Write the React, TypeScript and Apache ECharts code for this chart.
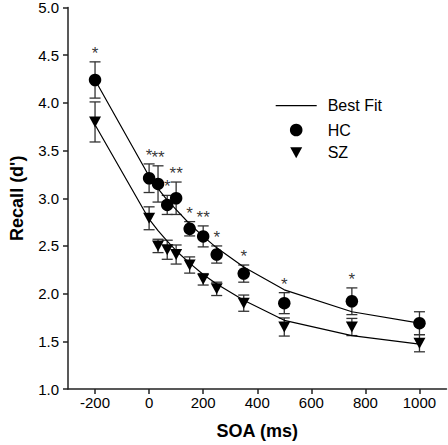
import React, { useEffect, useRef } from "react";
import * as echarts from "echarts";

const soa = [-200, 0, 33, 67, 100, 150, 200, 250, 350, 500, 750, 1000];
const hcMean = [4.24, 3.21, 3.15, 2.93, 3.0, 2.68, 2.6, 2.41, 2.21, 1.9, 1.92, 1.69];
const hcErr = [0.19, 0.15, 0.19, 0.1, 0.17, 0.075, 0.11, 0.09, 0.09, 0.11, 0.14, 0.12];
const szMean = [3.8, 2.79, 2.5, 2.46, 2.41, 2.3, 2.15, 2.05, 1.9, 1.65, 1.65, 1.48];
const szErr = [0.21, 0.12, 0.07, 0.1, 0.1, 0.085, 0.06, 0.07, 0.085, 0.095, 0.09, 0.09];
const hcFit = [4.24, 3.23, 3.1, 2.98, 2.88, 2.73, 2.6, 2.48, 2.28, 2.04, 1.81, 1.69];
const szFit = [3.77, 2.78, 2.66, 2.55, 2.45, 2.32, 2.2, 2.1, 1.93, 1.72, 1.56, 1.47];
const sigMarks = ["*", "*", "**", "*", "**", "*", "**", "*", "*", "*", "*", ""];
const xTicks = [-200, 0, 200, 400, 600, 800, 1000];
const legendNames = ["Best Fit", "HC", "SZ"];

const FONT = "'Liberation Sans', Arial, Helvetica, sans-serif";

export default function App() {
  const ref = useRef<HTMLDivElement>(null);
  useEffect(() => {
    document.body.style.margin = "0";
    if (!ref.current) return;
    const chart = echarts.init(ref.current, null, { renderer: "svg" });

    const errData = (mean: number[], err: number[]) =>
      soa.map((x, i) => [x, mean[i] - err[i], mean[i] + err[i]]);

    const renderErr = (params: any, api: any) => {
      const x = api.value(0);
      const pLo = api.coord([x, api.value(1)]);
      const pHi = api.coord([x, api.value(2)]);
      const w = 5.5;
      const st = { stroke: "#333", lineWidth: 1.3 };
      return {
        type: "group",
        children: [
          { type: "line", shape: { x1: pHi[0], y1: pHi[1], x2: pLo[0], y2: pLo[1] }, style: st },
          { type: "line", shape: { x1: pHi[0] - w, y1: pHi[1], x2: pHi[0] + w, y2: pHi[1] }, style: st },
          { type: "line", shape: { x1: pLo[0] - w, y1: pLo[1], x2: pLo[0] + w, y2: pLo[1] }, style: st },
        ],
      };
    };

    const lx = 275.7;
    const ly = [105.7, 130, 152.7];
    const textX = 327.7;
    const legendText = (name: string, y: number) => ({
      type: "text",
      x: textX,
      y,
      style: { text: name, fill: "#000", font: `16px ${FONT}`, textVerticalAlign: "middle", textAlign: "left" },
    });

    chart.setOption({
      animation: false,
      textStyle: { fontFamily: FONT },
      grid: { left: 60, right: 1.5, top: 6.3, bottom: 52.3, containLabel: false },
      graphic: [
        { type: "line", shape: { x1: lx, y1: ly[0], x2: lx + 41, y2: ly[0] }, style: { stroke: "#000", lineWidth: 1.2 } },
        legendText(legendNames[0], ly[0]),
        { type: "circle", shape: { cx: lx + 20.5, cy: ly[1], r: 6.3 }, style: { fill: "#000" } },
        legendText(legendNames[1], ly[1]),
        {
          type: "polygon",
          shape: {
            points: [
              [lx + 20.5 - 6, ly[2] - 5.5],
              [lx + 20.5 + 6, ly[2] - 5.5],
              [lx + 20.5, ly[2] + 5.5],
            ],
          },
          style: { fill: "#000" },
        },
        legendText(legendNames[2], ly[2]),
      ],
      xAxis: {
        type: "value",
        min: -300,
        max: 1100,
        name: "SOA (ms)",
        nameLocation: "middle",
        nameGap: 33,
        nameTextStyle: { fontSize: 18, fontWeight: "bold", color: "#000", fontFamily: FONT },
        splitLine: { show: false },
        axisLine: { onZero: false, lineStyle: { color: "#222", width: 1.5 } },
        axisTick: { show: true, customValues: xTicks, length: 5, lineStyle: { color: "#222", width: 1.5 } },
        axisLabel: {
          customValues: xTicks,
          fontSize: 15,
          color: "#000",
          margin: 6,
          fontFamily: FONT,
          formatter: (v: number) => String(v),
        },
      },
      yAxis: {
        type: "value",
        min: 1,
        max: 5,
        interval: 0.5,
        name: "Recall (d')",
        nameLocation: "middle",
        nameGap: 42,
        nameTextStyle: { fontSize: 18, fontWeight: "bold", color: "#000", fontFamily: FONT },
        splitLine: { show: false },
        axisLine: { show: true, onZero: false, lineStyle: { color: "#222", width: 1.5 } },
        axisTick: { show: true, length: 5, lineStyle: { color: "#222", width: 1.5 } },
        axisLabel: {
          fontSize: 15,
          color: "#000",
          margin: 9,
          fontFamily: FONT,
          formatter: (v: number) => v.toFixed(1),
        },
      },
      series: [
        {
          type: "custom",
          name: "HC error",
          data: errData(hcMean, hcErr),
          encode: { x: 0, y: [1, 2] },
          renderItem: renderErr,
          z: 1,
        },
        {
          type: "custom",
          name: "SZ error",
          data: errData(szMean, szErr),
          encode: { x: 0, y: [1, 2] },
          renderItem: renderErr,
          z: 1,
        },
        {
          type: "line",
          name: "Best Fit HC",
          data: soa.map((x, i) => [x, hcFit[i]]),
          symbol: "none",
          lineStyle: { color: "#000", width: 1.2 },
          itemStyle: { color: "#000" },
          z: 2,
        },
        {
          type: "line",
          name: "Best Fit SZ",
          data: soa.map((x, i) => [x, szFit[i]]),
          symbol: "none",
          lineStyle: { color: "#000", width: 1.2 },
          itemStyle: { color: "#000" },
          z: 2,
        },
        {
          type: "scatter",
          name: "HC",
          data: soa.map((x, i) => [x, hcMean[i]]),
          symbol: "circle",
          symbolSize: 12.5,
          itemStyle: { color: "#000", opacity: 1 },
          z: 3,
        },
        {
          type: "scatter",
          name: "SZ",
          data: soa.map((x, i) => [x, szMean[i]]),
          symbol: "triangle",
          symbolRotate: 180,
          symbolSize: [12, 11],
          itemStyle: { color: "#000", opacity: 1 },
          z: 3,
        },
        {
          type: "scatter",
          name: "significance",
          data: soa.map((x, i) => [x, hcMean[i] + hcErr[i]]),
          symbolSize: 0,
          silent: true,
          itemStyle: { color: "#000" },
          label: {
            show: true,
            position: "top",
            distance: 0,
            fontSize: 17,
            color: "#000",
            textBorderWidth: 0,
            fontFamily: FONT,
            formatter: (p: any) => sigMarks[p.dataIndex],
          },
          z: 4,
        },
      ],
    });
    return () => chart.dispose();
  }, []);
  return <div ref={ref} style={{ width: 448, height: 445 }} />;
}
